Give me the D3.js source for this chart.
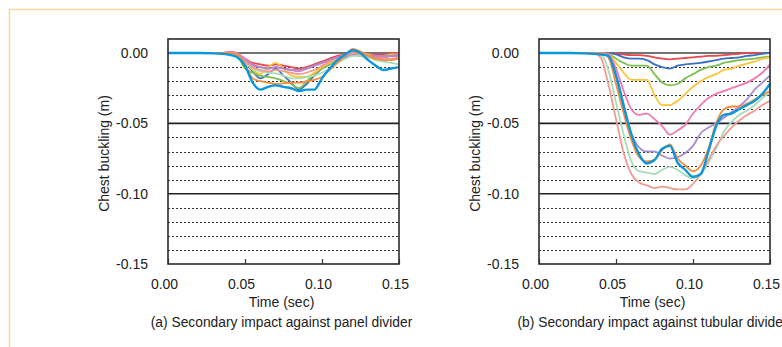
<!DOCTYPE html>
<html>
<head>
<meta charset="utf-8">
<script src="https://cdn.jsdelivr.net/npm/d3@7"></script>
<style>
  body { margin: 0; background: #fff; }
  svg { display: block; font-family: "Liberation Sans", Arial, sans-serif; }
</style>
</head>
<body>
<svg id="chart" width="782" height="347"></svg>
<script>
// shared time axis (sec)
const TIME = [0, 0.01, 0.02, 0.03, 0.035, 0.04, 0.045, 0.05, 0.055, 0.06, 0.065, 0.07, 0.075, 0.08,
    0.085, 0.09, 0.095, 0.1, 0.105, 0.11, 0.115, 0.12, 0.125, 0.13, 0.135, 0.14, 0.145, 0.15];

const X_TICKS = [0, 0.05, 0.10, 0.15];
const Y_TICKS = [0, -0.05, -0.10, -0.15];
const MAJOR_GRID = [0, -0.05, -0.10];
const MINOR_GRID = [-0.01, -0.02, -0.03, -0.04, -0.06, -0.07, -0.08, -0.09, -0.11, -0.12, -0.13, -0.14];

const SERIES_COLORS = ['#e8474c', '#3b6fc0', '#7cc04e', '#fcc43a', '#f07ab2', '#a98bd2',
    '#a7dbb9', '#f59a90', '#f78b3b', '#0a98dc'];

// (a) panel divider
const A_RED = [0,0,0,0,0,0.0005,-0.001,-0.004,-0.007,-0.008,-0.009,-0.008,-0.009,-0.010,-0.011,-0.010,-0.008,-0.006,-0.004,-0.002,-0.001,0.000,-0.001,-0.001,-0.001,-0.001,0,0];
const A_DKBLUE = [0,0,0,0,0,0,-0.001,-0.006,-0.013,-0.018,-0.015,-0.011,-0.016,-0.021,-0.026,-0.022,-0.016,-0.011,-0.008,-0.005,-0.003,-0.001,-0.002,-0.002,-0.003,-0.003,-0.002,-0.002];
const A_GREEN = [0,0,0,0,0,0,-0.002,-0.011,-0.014,-0.016,-0.017,-0.018,-0.020,-0.022,-0.025,-0.020,-0.015,-0.011,-0.008,-0.005,-0.002,-0.001,-0.002,-0.003,-0.002,-0.002,-0.0015,-0.001];
const A_YELLOW = [0,0,0,0,0,0,-0.001,-0.006,-0.012,-0.015,-0.010,-0.007,-0.011,-0.016,-0.017,-0.017,-0.014,-0.010,-0.007,-0.004,-0.001,0.001,0.000,-0.001,-0.002,-0.002,-0.001,-0.001];
const A_PINK = [0,0,0,0,0,0.001,0,-0.004,-0.008,-0.010,-0.011,-0.010,-0.011,-0.012,-0.013,-0.011,-0.009,-0.007,-0.005,-0.003,-0.001,0.000,-0.001,-0.002,-0.003,-0.003,-0.002,-0.002];
const A_PURPLE = [0,0,0,0,0,0,-0.001,-0.005,-0.009,-0.010,-0.011,-0.010,-0.011,-0.012,-0.012,-0.011,-0.009,-0.007,-0.005,-0.003,-0.002,-0.001,-0.001,-0.002,-0.002,-0.002,-0.002,-0.001];
const A_MINT = [0,0,0,0,0,0,-0.001,-0.007,-0.011,-0.013,-0.014,-0.0145,-0.016,-0.018,-0.018,-0.017,-0.016,-0.014,-0.011,-0.007,-0.004,-0.002,-0.002,-0.003,-0.005,-0.006,-0.007,-0.008];
const A_SALMON = [0,0,0,0,0,0.0005,-0.001,-0.006,-0.010,-0.012,-0.013,-0.012,-0.013,-0.014,-0.015,-0.014,-0.012,-0.009,-0.006,-0.004,-0.002,0.000,-0.001,-0.002,-0.004,-0.004,-0.004,-0.003];
const A_ORANGE = [0,0,0,0,0,0,-0.001,-0.008,-0.018,-0.020,-0.021,-0.022,-0.0215,-0.021,-0.021,-0.020,-0.019,-0.017,-0.012,-0.007,-0.002,0.003,0.001,-0.002,-0.004,-0.005,-0.005,-0.004];
const A_BLUE = [0,0,0,-0.0002,-0.0005,-0.0012,-0.003,-0.009,-0.021,-0.026,-0.024,-0.023,-0.024,-0.025,-0.027,-0.026,-0.026,-0.018,-0.011,-0.005,-0.001,0.002,0.000,-0.005,-0.009,-0.012,-0.011,-0.010];

// (b) tubular divider
const B_RED = [0,0,0,0,0,0,0,-0.0005,-0.001,-0.0015,-0.0015,-0.002,-0.003,-0.004,-0.0045,-0.004,-0.0035,-0.003,-0.0025,-0.002,-0.002,-0.0015,-0.001,-0.0005,0,0,0,0];
const B_DKBLUE = [0,0,0,0,0,0,0,-0.001,-0.003,-0.004,-0.004,-0.005,-0.008,-0.010,-0.011,-0.009,-0.008,-0.0075,-0.007,-0.006,-0.005,-0.004,-0.0035,-0.003,-0.002,-0.0015,-0.0005,0];
const B_GREEN = [0,0,0,0,0,0,-0.0005,-0.004,-0.007,-0.009,-0.009,-0.009,-0.015,-0.021,-0.023,-0.022,-0.018,-0.015,-0.012,-0.010,-0.009,-0.007,-0.006,-0.005,-0.0045,-0.004,-0.003,-0.0025];
const B_YELLOW = [0,0,0,0,0,0,-0.001,-0.007,-0.014,-0.019,-0.019,-0.019,-0.030,-0.037,-0.037,-0.034,-0.029,-0.024,-0.020,-0.017,-0.015,-0.012,-0.011,-0.009,-0.0075,-0.006,-0.004,-0.003];
const B_PINK = [0,0,0,0,0,0,-0.001,-0.011,-0.027,-0.040,-0.044,-0.043,-0.047,-0.052,-0.058,-0.055,-0.051,-0.043,-0.037,-0.032,-0.029,-0.027,-0.025,-0.023,-0.021,-0.018,-0.014,-0.008];
const B_PURPLE = [0,0,0,0,0,0,-0.002,-0.015,-0.036,-0.057,-0.067,-0.070,-0.070,-0.073,-0.075,-0.074,-0.071,-0.066,-0.057,-0.053,-0.050,-0.046,-0.042,-0.038,-0.033,-0.026,-0.021,-0.016];
const B_MINT = [0,0,0,0,0,-0.001,-0.012,-0.035,-0.058,-0.077,-0.084,-0.085,-0.086,-0.083,-0.081,-0.083,-0.087,-0.089,-0.086,-0.078,-0.068,-0.056,-0.049,-0.044,-0.041,-0.037,-0.032,-0.028];
const B_SALMON = [0,0,0,0,0,-0.003,-0.022,-0.047,-0.071,-0.086,-0.092,-0.094,-0.096,-0.095,-0.096,-0.097,-0.097,-0.093,-0.086,-0.076,-0.066,-0.059,-0.053,-0.048,-0.044,-0.041,-0.037,-0.034];
const B_ORANGE = [0,0,0,0,0,0,-0.003,-0.022,-0.043,-0.062,-0.074,-0.077,-0.076,-0.069,-0.065,-0.075,-0.080,-0.084,-0.080,-0.068,-0.050,-0.040,-0.038,-0.038,-0.036,-0.033,-0.030,-0.027];
const B_BLUE = [0,0,0,-0.0002,-0.0005,-0.001,-0.002,-0.016,-0.038,-0.058,-0.072,-0.0785,-0.076,-0.068,-0.066,-0.078,-0.083,-0.088,-0.086,-0.070,-0.052,-0.044,-0.043,-0.040,-0.037,-0.034,-0.029,-0.022];

const PANEL_A = [A_RED, A_DKBLUE, A_GREEN, A_YELLOW, A_PINK, A_PURPLE, A_MINT, A_SALMON, A_ORANGE, A_BLUE];
const PANEL_B = [B_RED, B_DKBLUE, B_GREEN, B_YELLOW, B_PINK, B_PURPLE, B_MINT, B_SALMON, B_ORANGE, B_BLUE];

const svg = d3.select('#chart');
const TOP = 39, BOTTOM = 264;
const FONT = '"Liberation Sans", Arial, sans-serif';

// light orange page frame
svg.append('rect')
    .attr('x', 9.5).attr('y', 9.5)
    .attr('width', 800).attr('height', 400)
    .attr('fill', 'none')
    .attr('stroke', '#fcd8a0')
    .attr('stroke-width', 1.5);

function drawPanel(left, right, series, caption) {
    const xScale = d3.scaleLinear().domain([0, 0.15]).range([left, right]);
    const yScale = d3.scaleLinear().domain([-0.15, 0.01]).range([BOTTOM, TOP]);
    const g = svg.append('g');

    g.selectAll('line.minor')
        .data(MINOR_GRID)
        .enter()
        .append('line')
        .attr('class', 'minor')
        .attr('x1', left).attr('x2', right)
        .attr('y1', d => Math.round(yScale(d)) + 0.5)
        .attr('y2', d => Math.round(yScale(d)) + 0.5)
        .attr('stroke', '#333')
        .attr('stroke-width', 1)
        .attr('stroke-dasharray', '2,2');

    g.selectAll('line.major')
        .data(MAJOR_GRID)
        .enter()
        .append('line')
        .attr('class', 'major')
        .attr('x1', left).attr('x2', right)
        .attr('y1', d => yScale(d))
        .attr('y2', d => yScale(d))
        .attr('stroke', (d) => d === 0 ? '#444' : '#222')
        .attr('stroke-width', 1.6);

    const line = d3.line()
        .x((d, i) => xScale(TIME[i]))
        .y(d => yScale(d))
        .curve(d3.curveMonotoneX);

    g.selectAll('path.series')
        .data(series)
        .enter()
        .append('path')
        .attr('class', 'series')
        .attr('d', d => line(d))
        .attr('fill', 'none')
        .attr('stroke', (d, i) => SERIES_COLORS[i])
        .attr('stroke-width', (d, i) => i === series.length - 1 ? 2.4 : 1.8)
        .attr('stroke-linejoin', 'round');

    g.append('rect')
        .attr('x', left).attr('y', TOP)
        .attr('width', right - left).attr('height', BOTTOM - TOP)
        .attr('fill', 'none')
        .attr('stroke', '#2a2a2a')
        .attr('stroke-width', 1.6);

    const xAxis = g.append('g')
        .attr('transform', `translate(0, ${BOTTOM})`)
        .call(d3.axisBottom(xScale).tickValues(X_TICKS).tickSize(-5).tickPadding(15)
            .tickFormat(d => d.toFixed(2)));
    xAxis.select('.domain').remove();
    xAxis.selectAll('line').attr('stroke', '#333').attr('stroke-width', 1.2);
    xAxis.selectAll('text').attr('font-size', 14).attr('fill', '#222').attr('dx', -4)
        .attr('font-family', FONT);

    const yAxis = g.append('g')
        .attr('transform', `translate(${left}, 0)`)
        .call(d3.axisLeft(yScale).tickValues(Y_TICKS).tickSize(0).tickPadding(20)
            .tickFormat(d => d.toFixed(2)));
    yAxis.select('.domain').remove();
    yAxis.selectAll('text').attr('font-size', 14).attr('fill', '#222')
        .attr('font-family', FONT);

    g.append('text')
        .attr('transform', `translate(${left - 59}, ${(TOP + BOTTOM) / 2 + 2}) rotate(-90)`)
        .attr('text-anchor', 'middle')
        .attr('font-size', 14)
        .attr('fill', '#222')
        .text('Chest buckling (m)');

    const mid = (left + right) / 2;
    g.append('text')
        .attr('x', mid - 2).attr('y', 307)
        .attr('text-anchor', 'middle')
        .attr('font-size', 14)
        .attr('fill', '#222')
        .text('Time (sec)');

    g.append('text')
        .attr('x', mid - 2).attr('y', 327)
        .attr('text-anchor', 'middle')
        .attr('font-size', 13.8)
        .attr('fill', '#222')
        .text(caption);
}

drawPanel(168, 399, PANEL_A, '(a) Secondary impact against panel divider');
drawPanel(539, 770, PANEL_B, '(b) Secondary impact against tubular divider');
</script>
</body>
</html>
